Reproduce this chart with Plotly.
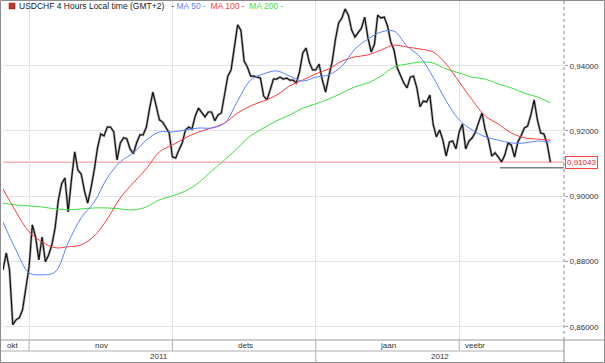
import pandas as pd
import plotly.graph_objects as go

# ---------------- data ----------------
# half-day sample times, weekdays only, starting 26 Oct 2011
trading_days = pd.bdate_range("2011-10-26", periods=85)
stamps = []
for d in trading_days:
    stamps.append(d)
    stamps.append(d + pd.Timedelta(hours=12))
stamps = stamps[:169]

close = [
    0.8774, 0.8826, 0.8774, 0.8606, 0.8621, 0.8627, 0.8652, 0.8719, 0.8783, 0.8912,
    0.8875, 0.8805, 0.8875, 0.8799, 0.8820, 0.8851, 0.8903, 0.8989, 0.9038, 0.9056,
    0.8952, 0.9050, 0.9136, 0.9080, 0.9068, 0.9016, 0.8979, 0.9025, 0.9080, 0.9148,
    0.9191, 0.9185, 0.9212, 0.9212, 0.9197, 0.9111, 0.9163, 0.9179, 0.9176, 0.9145,
    0.9130, 0.9163, 0.9188, 0.9188, 0.9212, 0.9270, 0.9319, 0.9277, 0.9234, 0.9227,
    0.9212, 0.9194, 0.9120, 0.9117, 0.9142, 0.9163, 0.9203, 0.9212, 0.9206, 0.9246,
    0.9270, 0.9258, 0.9243, 0.9258, 0.9258, 0.9231, 0.9249, 0.9255, 0.9319, 0.9368,
    0.9387, 0.9457, 0.9525, 0.9509, 0.9414, 0.9396, 0.9368, 0.9368, 0.9365, 0.9362,
    0.9307, 0.9295, 0.9326, 0.9359, 0.9359, 0.9365, 0.9359, 0.9362, 0.9356, 0.9356,
    0.9347, 0.9381, 0.9439, 0.9454, 0.9411, 0.9387, 0.9387, 0.9405, 0.9356, 0.9319,
    0.9368, 0.9411, 0.9479, 0.9531, 0.9546, 0.9574, 0.9555, 0.9509, 0.9488, 0.9500,
    0.9515, 0.9549, 0.9485, 0.9442, 0.9466, 0.9555, 0.9546, 0.9549, 0.9522, 0.9473,
    0.9448, 0.9393, 0.9371, 0.9347, 0.9332, 0.9365, 0.9368, 0.9332, 0.9274, 0.9292,
    0.9289, 0.9310, 0.9221, 0.9182, 0.9203, 0.9172, 0.9123, 0.9166, 0.9169, 0.9145,
    0.9197, 0.9221, 0.9145, 0.9169, 0.9179, 0.9197, 0.9227, 0.9255, 0.9203, 0.9172,
    0.9123, 0.9133, 0.9120, 0.9105, 0.9126, 0.9163, 0.9157, 0.9120, 0.9166, 0.9185,
    0.9209, 0.9215, 0.9249, 0.9295, 0.9234, 0.9194, 0.9191, 0.9160, 0.91043,
]

ma_x = stamps[::4]
ma50 = [
    0.8921, 0.8835, 0.8765, 0.8759, 0.8768, 0.8857, 0.8934, 0.8982, 0.9056, 0.9105,
    0.9133, 0.9172, 0.9197, 0.9197, 0.9203, 0.9209, 0.9209, 0.9224, 0.9292, 0.9356,
    0.9375, 0.9384, 0.9368, 0.9353, 0.9365, 0.9372, 0.9399, 0.9451, 0.9482, 0.9503,
    0.9506, 0.9460, 0.9427, 0.9365, 0.9292, 0.9234, 0.9203, 0.9182, 0.9172, 0.9163,
    0.9163, 0.9169, 0.9166,
]
ma100 = [
    0.9022, 0.8952, 0.8891, 0.8860, 0.8842, 0.8845, 0.8851, 0.8878, 0.8930, 0.8995,
    0.9041, 0.9084, 0.9136, 0.9157, 0.9179, 0.9197, 0.9209, 0.9224, 0.9255, 0.9277,
    0.9292, 0.9310, 0.9338, 0.9356, 0.9375, 0.9390, 0.9414, 0.9427, 0.9433, 0.9448,
    0.9463, 0.9457, 0.9451, 0.9442, 0.9405, 0.9350, 0.9295, 0.9246, 0.9221, 0.9194,
    0.9179, 0.9175, 0.9172,
]
ma200 = [
    0.8979, 0.8973, 0.8970, 0.8967, 0.8961, 0.8958, 0.8961, 0.8964, 0.8964, 0.8961,
    0.8958, 0.8967, 0.8989, 0.9001, 0.9016, 0.9041, 0.9077, 0.9111, 0.9148, 0.9185,
    0.9209, 0.9231, 0.9249, 0.9270, 0.9283, 0.9298, 0.9316, 0.9335, 0.9347, 0.9368,
    0.9396, 0.9405, 0.9411, 0.9408, 0.9390, 0.9378, 0.9365, 0.9359, 0.9344, 0.9332,
    0.9316, 0.9304, 0.9286,
]

last_close = 0.91043
low_level = 0.90875
low_start = "2012-02-09 06:00"

x_range = ["2011-10-26 00:00", "2012-02-23 02:00"]
y_range = [0.85592, 0.95983]

month_starts = ["2011-11-01", "2011-12-01", "2012-01-02", "2012-02-01"]
month_labels = ["okt", "nov", "dets", "jaan", "veebr"]
month_label_x = ["2011-10-27 11:00", "2011-11-16 04:00", "2011-12-16 04:00",
                 "2012-01-17 01:00", "2012-02-03 10:00"]
year_labels = ["2011", "2012"]
year_label_x = ["2011-11-29 00:00", "2012-01-27 00:00"]
year_start = "2012-01-02"

C_BLUE, C_RED, C_GREEN = "#5b82ff", "#ff3b3b", "#3fe03f"
FONT = "Liberation Sans, Arial, sans-serif"

# ---------------- figure ----------------
fig = go.Figure()
fig.add_trace(go.Scatter(x=stamps, y=close, mode="lines",
                         line=dict(color="#b4b4b4", width=2.6), hoverinfo="skip"))
fig.add_trace(go.Scatter(x=stamps, y=close, mode="lines",
                         line=dict(color="#111111", width=1.2), name="USDCHF"))
fig.add_trace(go.Scatter(x=ma_x, y=ma200, mode="lines",
                         line=dict(color=C_GREEN, width=1, shape="spline"), name="MA 200"))
fig.add_trace(go.Scatter(x=ma_x, y=ma100, mode="lines",
                         line=dict(color=C_RED, width=1, shape="spline"), name="MA 100"))
fig.add_trace(go.Scatter(x=ma_x, y=ma50, mode="lines",
                         line=dict(color=C_BLUE, width=1, shape="spline"), name="MA 50"))

# plot area: px x 3..564, y 1..340
def px_x(px):
    return (px - 3) / 561.0

def px_y(py):
    return (340 - py) / 339.0

shapes = []
shapes.append(dict(type="line", xref="paper", yref="y", x0=0, x1=1, y0=last_close, y1=last_close,
                   line=dict(color="#ff8a8a", width=1), layer="below"))
shapes.append(dict(type="line", xref="x", yref="y", x0=low_start, x1=x_range[1], y0=low_level, y1=low_level,
                   line=dict(color="#808080", width=1.5)))
shapes.append(dict(type="line", xref="paper", yref="paper", x0=1, x1=1, y0=0, y1=px_y(0),
                   line=dict(color="#8a8a8a", width=1, dash="dot")))
shapes.append(dict(type="line", xref="paper", yref="paper", x0=px_x(0), x1=px_x(605), y0=0, y1=0,
                   line=dict(color="#9a9a9a", width=1)))
shapes.append(dict(type="line", xref="paper", yref="paper", x0=px_x(0), x1=1, y0=px_y(351), y1=px_y(351),
                   line=dict(color="#b0b0b0", width=1)))
shapes.append(dict(type="line", xref="paper", yref="paper", x0=1, x1=1, y0=px_y(362), y1=0,
                   line=dict(color="#8a8a8a", width=1)))
for ms in month_starts:
    shapes.append(dict(type="line", xref="x", yref="paper", x0=ms, x1=ms, y0=px_y(351), y1=0,
                       line=dict(color="#b0b0b0", width=1)))
shapes.append(dict(type="line", xref="x", yref="paper", x0=year_start, x1=year_start, y0=px_y(362), y1=px_y(351),
                   line=dict(color="#b0b0b0", width=1)))
shapes.append(dict(type="rect", xref="paper", yref="paper", x0=px_x(0.5), x1=px_x(604.5),
                   y0=px_y(362.5), y1=px_y(0.5), line=dict(color="#8c8c8c", width=1)))
shapes.append(dict(type="rect", xref="paper", yref="paper", x0=px_x(9), x1=px_x(15),
                   y0=px_y(9), y1=px_y(3), line=dict(color="#8b1a1a", width=0.5), fillcolor="#c0392b"))

annotations = []
title_txt = ("USDCHF 4 Hours Local time (GMT+2)\u00a0\u00a0\u00a0-\u00a0"
             f"<span style='color:{C_BLUE}'>MA 50 -</span>\u00a0\u00a0"
             f"<span style='color:{C_RED}'>MA 100 -</span>\u00a0\u00a0"
             f"<span style='color:{C_GREEN}'>MA 200 -</span>")
annotations.append(dict(text=title_txt, xref="paper", yref="paper", x=px_x(17), y=px_y(6.5),
                        xanchor="left", yanchor="middle", showarrow=False,
                        font=dict(family=FONT, size=8.5, color="#222222")))
annotations.append(dict(text="0,91043", xref="paper", yref="y", x=1, y=last_close, xanchor="left",
                        yanchor="middle", showarrow=False, xshift=1,
                        font=dict(family=FONT, size=8, color="#ff2020"),
                        bordercolor="#ff4040", borderwidth=1, borderpad=1, bgcolor="white"))
for lab, lx in zip(month_labels, month_label_x):
    annotations.append(dict(text=lab, xref="x", yref="paper", x=lx, y=px_y(345.8),
                            xanchor="center", yanchor="middle", showarrow=False,
                            font=dict(family=FONT, size=8, color="#333333")))
for lab, lx in zip(year_labels, year_label_x):
    annotations.append(dict(text=lab, xref="x", yref="paper", x=lx, y=px_y(356.6),
                            xanchor="center", yanchor="middle", showarrow=False,
                            font=dict(family=FONT, size=8, color="#333333")))

fig.update_layout(
    width=605, height=363,
    margin=dict(l=3, r=41, t=1, b=23),
    paper_bgcolor="white", plot_bgcolor="white",
    separators=",.",
    showlegend=False,
    font=dict(family=FONT, size=8, color="#333333"),
    shapes=shapes, annotations=annotations,
    xaxis=dict(type="date", range=x_range, rangebreaks=[dict(bounds=["sat", "mon"])],
               tickvals=month_starts, showticklabels=False, ticks="",
               showgrid=True, gridcolor="#e4e4e4", gridwidth=1, zeroline=False, showline=False,
               automargin=False, fixedrange=True),
    yaxis=dict(side="right", range=y_range, tick0=0.86, dtick=0.02, tickformat=".5f",
               ticks="outside", ticklen=3, tickcolor="#9a9a9a",
               showgrid=True, gridcolor="#e4e4e4", gridwidth=1, zeroline=False, showline=False,
               tickfont=dict(family=FONT, size=8, color="#333333"), automargin=False, fixedrange=True),
)

fig.write_html("out.html", config={"displayModeBar": False},
               post_script="document.body.style.margin='0px';document.body.style.overflow='hidden';")
